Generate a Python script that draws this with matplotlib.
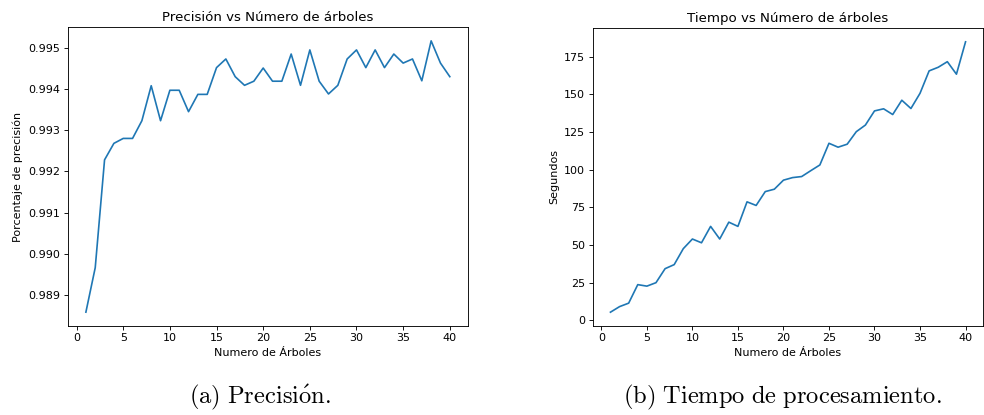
import matplotlib
matplotlib.use("Agg")
import matplotlib.pyplot as plt

plt.rcParams["mathtext.fontset"] = "cm"

# Número de árboles del bosque
arboles = list(range(1, 41))

# Precisión obtenida para cada número de árboles
precision = [
    0.98858, 0.98966, 0.99228, 0.99268, 0.99280, 0.99280, 0.99323, 0.99408,
    0.99323, 0.99397, 0.99397, 0.99345, 0.99387, 0.99387, 0.99452, 0.99473,
    0.99430, 0.99409, 0.99419, 0.99451, 0.99419, 0.99419, 0.99485, 0.99409,
    0.99495, 0.99419, 0.99388, 0.99409, 0.99473, 0.99495, 0.99452, 0.99495,
    0.99452, 0.99485, 0.99463, 0.99473, 0.99420, 0.99517, 0.99463, 0.99430,
]

# Tiempo de entrenamiento en segundos
tiempo = [
    5.3, 9.0, 11.3, 23.6, 22.6, 24.9, 34.2, 36.9, 47.5, 53.9,
    51.4, 62.3, 53.9, 65.1, 62.3, 78.6, 76.2, 85.4, 87.0, 93.0,
    94.7, 95.4, 99.3, 103.1, 117.5, 114.9, 116.9, 125.2, 129.6, 139.0,
    140.4, 136.6, 146.1, 140.6, 150.7, 165.6, 168.0, 171.7, 163.4, 184.9,
]

W, H, DPI = 984, 415, 80
fig = plt.figure(figsize=(W / DPI, H / DPI), dpi=DPI)

ax1 = fig.add_axes([67.7 / W, 1 - 325.7 / H, (468 - 67.7) / W, (325.7 - 27.3) / H])
ax1.plot(arboles, precision, color="#1f77b4", linewidth=1.5)
ax1.set_title("Precisión vs Número de árboles")
ax1.set_xlabel("Numero de Árboles")
ax1.set_ylabel("Porcentaje de precisión")
ax1.set_xticks(range(0, 41, 5))

ax2 = fig.add_axes([592.7 / W, 1 - 325.7 / H, (983.3 - 592.7) / W, (325.7 - 28.3) / H])
ax2.plot(arboles, tiempo, color="#1f77b4", linewidth=1.5)
ax2.set_title("Tiempo vs Número de árboles")
ax2.set_xlabel("Numero de Árboles")
ax2.set_ylabel("Segundos")
ax2.set_xticks(range(0, 41, 5))

fig.text(260 / W, 1 - 397 / H, r"$\mathrm{(a)\ Precisi\acute{o}n.}$",
         ha="center", va="center", fontsize=22)
fig.text(782 / W, 1 - 397 / H, r"$\mathrm{(b)\ Tiempo\ de\ procesamiento.}$",
         ha="center", va="center", fontsize=22)

fig.savefig("out.png", dpi=DPI)
